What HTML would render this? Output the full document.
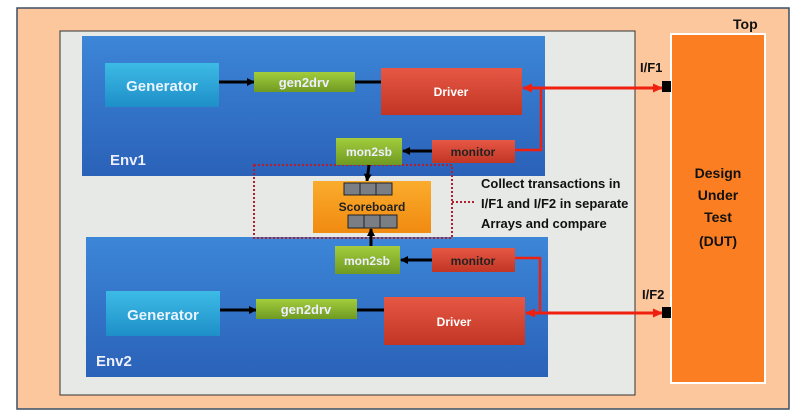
<!DOCTYPE html>
<html><head><meta charset="utf-8"><style>
html,body{margin:0;padding:0;background:#fff;}
svg{display:block;font-family:"Liberation Sans",sans-serif;font-weight:bold;}
</style></head><body>
<svg width="801" height="417" viewBox="0 0 801 417">
<defs>
<linearGradient id="blue" x1="0" y1="0" x2="0" y2="1"><stop offset="0" stop-color="#3c86d8"/><stop offset="1" stop-color="#2a62b8"/></linearGradient>
<linearGradient id="cyan" x1="0" y1="0" x2="0" y2="1"><stop offset="0" stop-color="#3dbbe6"/><stop offset="1" stop-color="#1e8fc8"/></linearGradient>
<linearGradient id="green" x1="0" y1="0" x2="0" y2="1"><stop offset="0" stop-color="#a3cd3c"/><stop offset="1" stop-color="#6f9a22"/></linearGradient>
<linearGradient id="red" x1="0" y1="0" x2="0" y2="1"><stop offset="0" stop-color="#e65844"/><stop offset="1" stop-color="#c23524"/></linearGradient>
<linearGradient id="org" x1="0" y1="0" x2="0" y2="1"><stop offset="0" stop-color="#fbac2c"/><stop offset="1" stop-color="#f08a10"/></linearGradient>
<marker id="ah" markerWidth="8" markerHeight="8" refX="7" refY="4" orient="auto" markerUnits="userSpaceOnUse"><path d="M0,0 L8,4 L0,8 z" fill="#000"/></marker>
<marker id="rh" markerWidth="10" markerHeight="9" refX="9" refY="4.5" orient="auto-start-reverse" markerUnits="userSpaceOnUse"><path d="M0,0 L10,4.5 L0,9 z" fill="#f02010"/></marker>
</defs>
<rect x="17" y="8" width="772" height="401" fill="#fcc79c" stroke="#3d4e66" stroke-width="1.5"/>
<text x="733" y="29" font-size="14" fill="#111">Top</text>
<rect x="60" y="31" width="575" height="364" fill="#e6e9e6" stroke="#333" stroke-width="1"/>
<rect x="82" y="36" width="463" height="140" fill="url(#blue)"/>
<text x="110" y="165" font-size="15" fill="#eef">Env1</text>
<rect x="86" y="237" width="462" height="140" fill="url(#blue)"/>
<text x="96" y="366" font-size="15" fill="#eef">Env2</text>
<rect x="671" y="34" width="94" height="349" fill="#fb7e22" stroke="#fff" stroke-width="2"/>
<text font-size="14" fill="#111" text-anchor="middle"><tspan x="718" y="178">Design</tspan><tspan x="718" y="200">Under</tspan><tspan x="718" y="222">Test</tspan><tspan x="718" y="246">(DUT)</tspan></text>
<rect x="254" y="165" width="198" height="73" fill="none" stroke="#b02030" stroke-width="2" stroke-dasharray="2,2"/>
<line x1="452" y1="202" x2="474" y2="202" stroke="#b02030" stroke-width="2" stroke-dasharray="2,2"/>
<text font-size="13" fill="#111"><tspan x="481" y="188">Collect transactions in</tspan><tspan x="481" y="208">I/F1 and I/F2 in separate</tspan><tspan x="481" y="228">Arrays and compare</tspan></text>
<rect x="105" y="63" width="114" height="44" fill="url(#cyan)"/>
<text x="162" y="91" font-size="15" fill="#e8f4ff" text-anchor="middle">Generator</text>
<line x1="219" y1="82" x2="254" y2="82" stroke="#000" stroke-width="3" marker-end="url(#ah)"/>
<rect x="254" y="72" width="101" height="20" fill="url(#green)"/>
<text x="304" y="87" font-size="13" fill="#eef" text-anchor="middle">gen2drv</text>
<line x1="355" y1="82" x2="381" y2="82" stroke="#000" stroke-width="3"/>
<rect x="381" y="68" width="141" height="47" fill="url(#red)"/>
<text x="451" y="96" font-size="12" fill="#fff" text-anchor="middle">Driver</text>
<rect x="336" y="138" width="66" height="27" fill="url(#green)"/>
<text x="369" y="156" font-size="12" fill="#eef" text-anchor="middle">mon2sb</text>
<rect x="432" y="140" width="83" height="23" fill="url(#red)"/>
<text x="473" y="156" font-size="12" fill="#222" text-anchor="middle">monitor</text>
<line x1="432" y1="151" x2="403" y2="151" stroke="#000" stroke-width="3" marker-end="url(#ah)"/>
<line x1="369" y1="165" x2="367" y2="181" stroke="#000" stroke-width="3" marker-end="url(#ah)"/>
<rect x="313" y="181" width="118" height="52" fill="url(#org)"/>
<rect x="344" y="183" width="48" height="12" fill="#7a7f86" stroke="#222"/>
<line x1="360" y1="183" x2="360" y2="195" stroke="#222"/><line x1="376" y1="183" x2="376" y2="195" stroke="#222"/>
<text x="372" y="211" font-size="12" fill="#222" text-anchor="middle">Scoreboard</text>
<rect x="348" y="215" width="49" height="13" fill="#7a7f86" stroke="#222"/>
<line x1="364" y1="215" x2="364" y2="228" stroke="#222"/><line x1="380" y1="215" x2="380" y2="228" stroke="#222"/>
<line x1="371" y1="246" x2="371" y2="229" stroke="#000" stroke-width="3" marker-end="url(#ah)"/>
<rect x="106" y="291" width="114" height="45" fill="url(#cyan)"/>
<text x="163" y="320" font-size="15" fill="#e8f4ff" text-anchor="middle">Generator</text>
<line x1="220" y1="310" x2="256" y2="310" stroke="#000" stroke-width="3" marker-end="url(#ah)"/>
<rect x="256" y="299" width="101" height="20" fill="url(#green)"/>
<text x="306" y="314" font-size="13" fill="#eef" text-anchor="middle">gen2drv</text>
<line x1="357" y1="310" x2="384" y2="310" stroke="#000" stroke-width="3"/>
<rect x="384" y="297" width="141" height="48" fill="url(#red)"/>
<text x="454" y="326" font-size="12" fill="#fff" text-anchor="middle">Driver</text>
<rect x="335" y="246" width="65" height="28" fill="url(#green)"/>
<text x="367" y="265" font-size="12" fill="#eef" text-anchor="middle">mon2sb</text>
<rect x="432" y="248" width="83" height="24" fill="url(#red)"/>
<text x="473" y="265" font-size="12" fill="#222" text-anchor="middle">monitor</text>
<line x1="432" y1="260" x2="401" y2="260" stroke="#000" stroke-width="3" marker-end="url(#ah)"/>
<polyline points="515,150 541,150 541,88" fill="none" stroke="#f02010" stroke-width="2.5"/>
<line x1="523" y1="88" x2="662" y2="88" stroke="#f02010" stroke-width="3" marker-start="url(#rh)" marker-end="url(#rh)"/>
<rect x="662" y="81" width="9" height="11" fill="#000"/>
<text x="640" y="72" font-size="13" fill="#111">I/F1</text>
<polyline points="515,258 540,258 540,313" fill="none" stroke="#f02010" stroke-width="2.5"/>
<line x1="526" y1="313" x2="662" y2="313" stroke="#f02010" stroke-width="3" marker-start="url(#rh)" marker-end="url(#rh)"/>
<rect x="662" y="307" width="9" height="11" fill="#000"/>
<text x="642" y="299" font-size="13" fill="#111">I/F2</text>
</svg>
</body></html>
